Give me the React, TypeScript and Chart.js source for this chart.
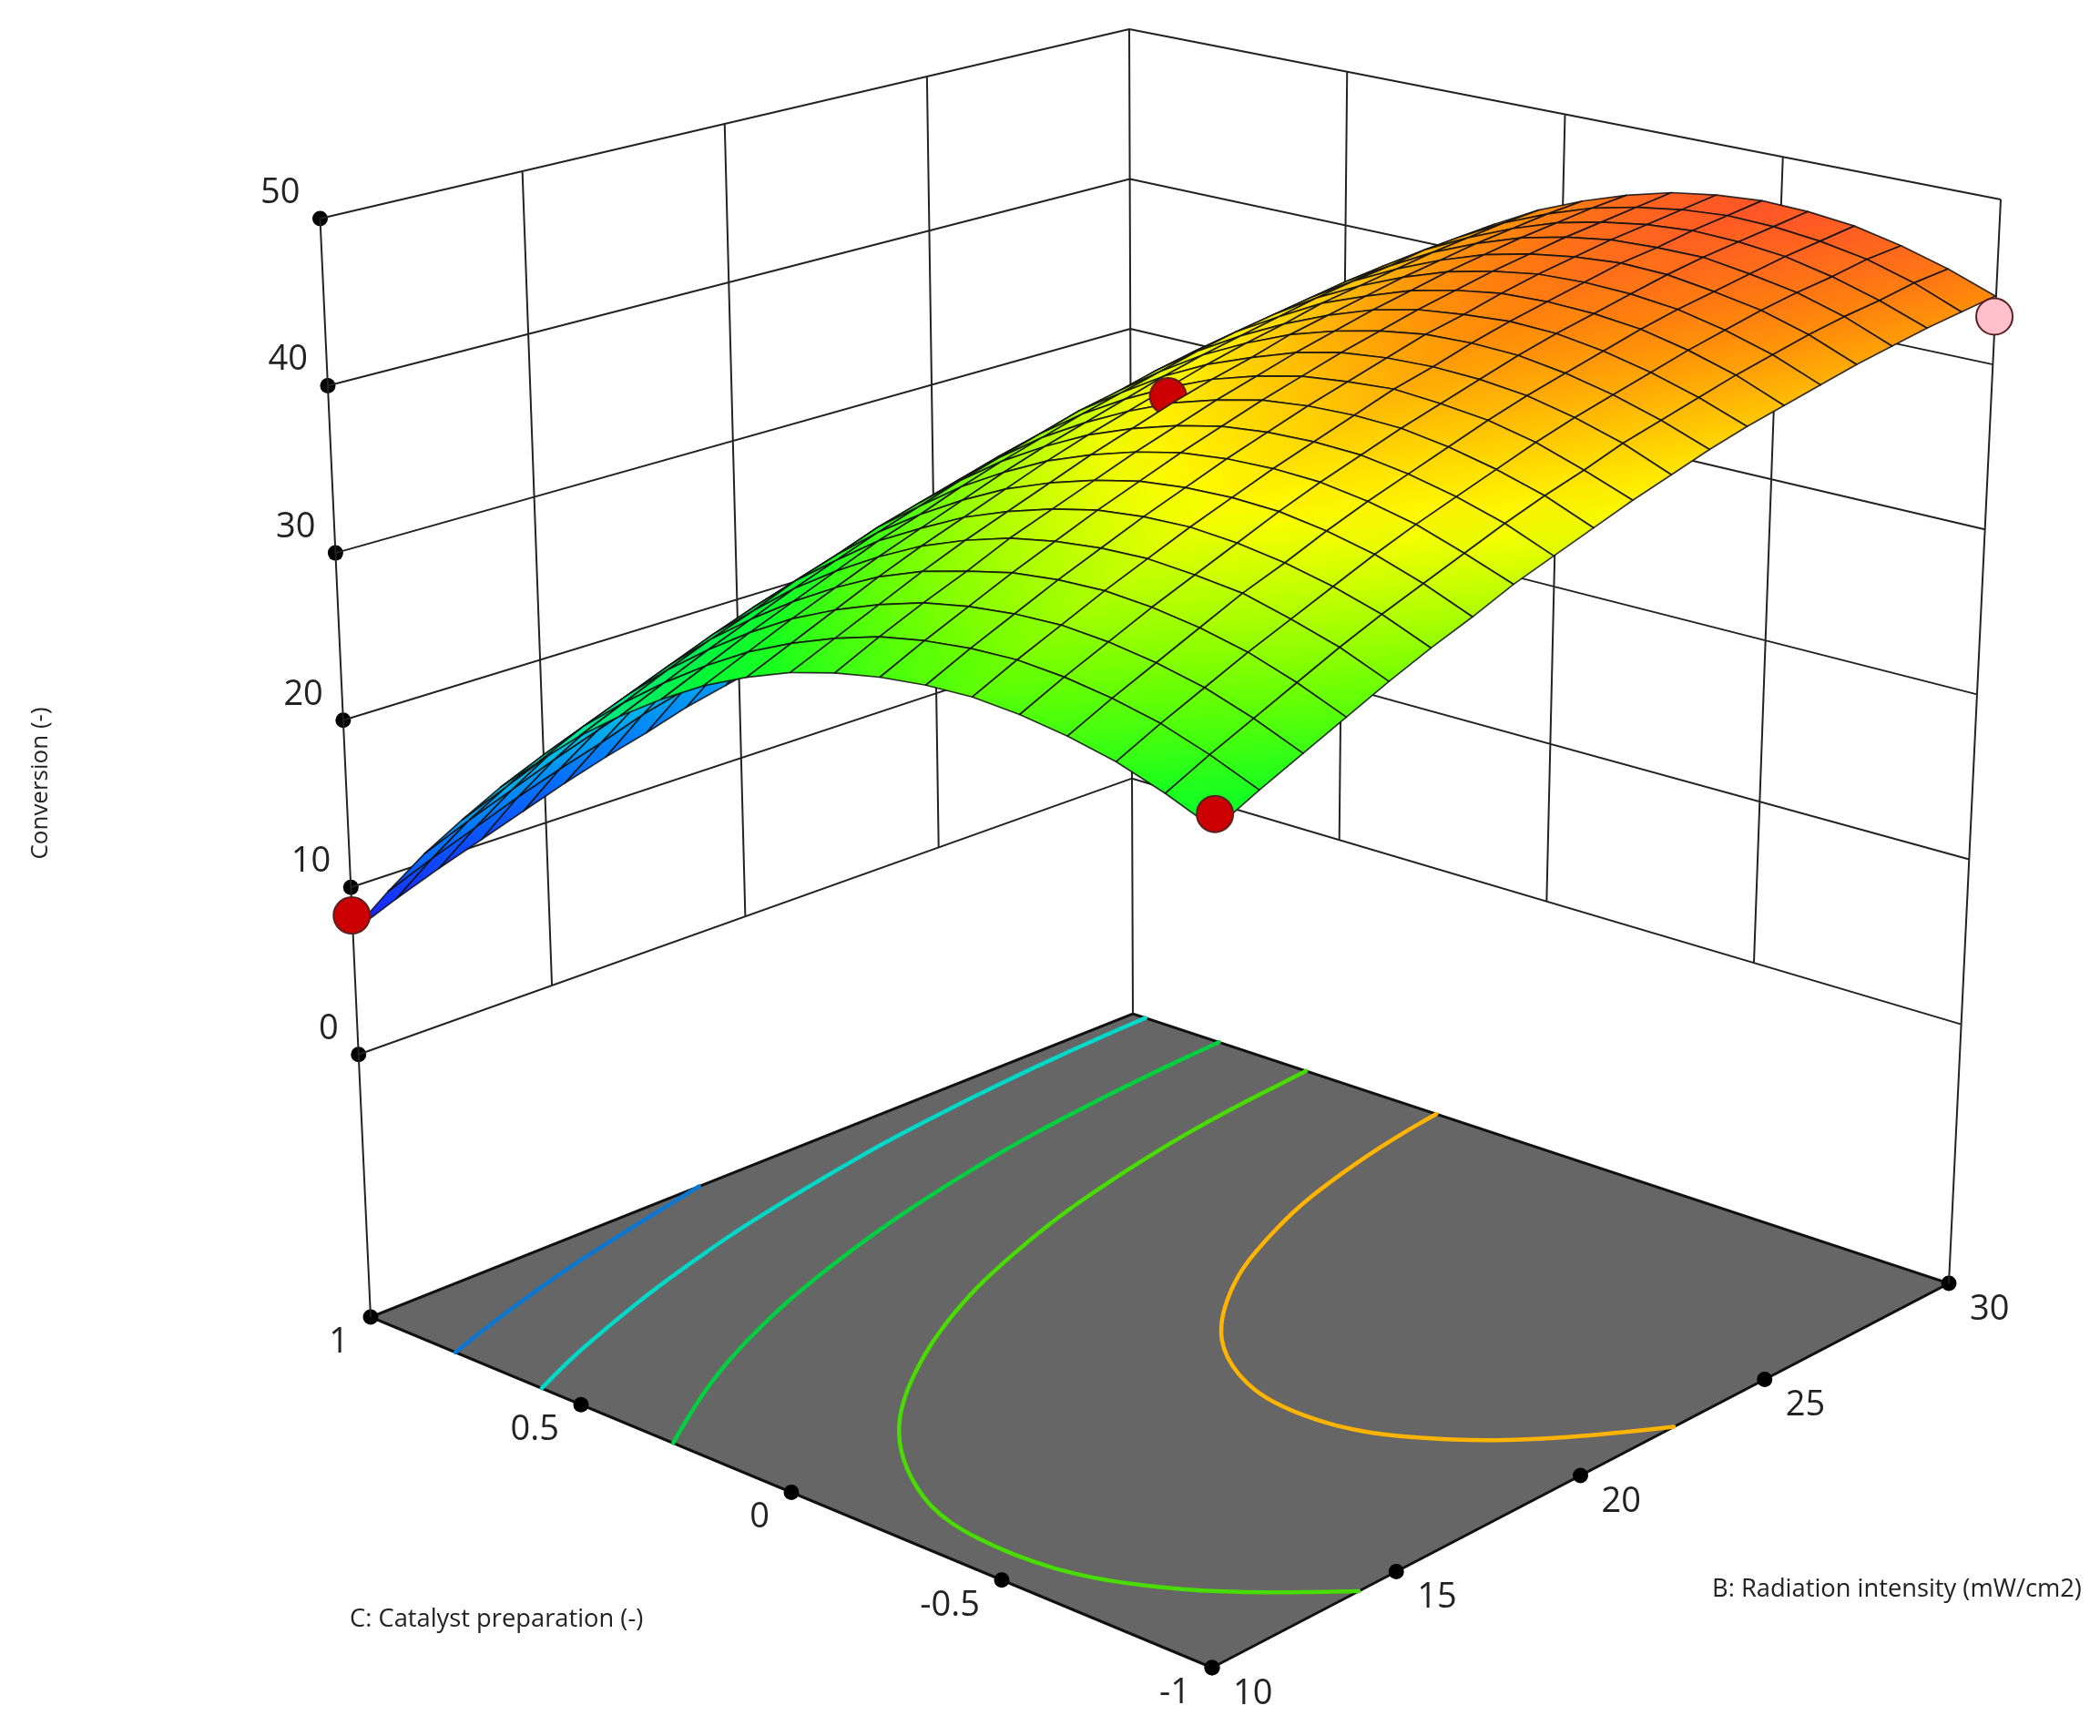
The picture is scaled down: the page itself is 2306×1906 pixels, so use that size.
import { useEffect, useRef } from "react"
import { Chart, registerables } from "chart.js"

Chart.register(...registerables)

const W = 2306
const H = 1906

const bGrid = [10, 11, 12, 13, 14, 15, 16, 17, 18, 19, 20, 21, 22, 23, 24, 25, 26, 27, 28, 29, 30]
const cGrid = [-1, -0.9, -0.8, -0.7, -0.6, -0.5, -0.4, -0.3, -0.2, -0.1, 0, 0.1, 0.2, 0.3, 0.4, 0.5, 0.6, 0.7, 0.8, 0.9, 1]

// one row per C value, one column per B value
const conversion = [
  [29.7, 30.9, 32.0, 33.1, 34.2, 35.2, 36.1, 37.1, 37.9, 38.7, 39.5, 40.2, 40.9, 41.5, 42.0, 42.5, 43.0, 43.4, 43.8, 44.1, 44.4],
  [30.8, 32.0, 33.1, 34.2, 35.3, 36.3, 37.2, 38.1, 39.0, 39.8, 40.5, 41.3, 41.9, 42.5, 43.1, 43.6, 44.1, 44.5, 44.8, 45.2, 45.4],
  [31.7, 32.9, 34.0, 35.1, 36.1, 37.1, 38.1, 39.0, 39.8, 40.6, 41.4, 42.1, 42.7, 43.3, 43.9, 44.4, 44.9, 45.3, 45.6, 46.0, 46.2],
  [32.3, 33.5, 34.6, 35.7, 36.8, 37.7, 38.7, 39.6, 40.4, 41.2, 42.0, 42.7, 43.3, 43.9, 44.5, 45.0, 45.4, 45.8, 46.2, 46.5, 46.8],
  [32.7, 33.9, 35.0, 36.1, 37.1, 38.1, 39.1, 40.0, 40.8, 41.6, 42.3, 43.0, 43.7, 44.3, 44.8, 45.3, 45.8, 46.2, 46.5, 46.8, 47.1],
  [32.9, 34.1, 35.2, 36.3, 37.3, 38.3, 39.2, 40.1, 40.9, 41.7, 42.5, 43.1, 43.8, 44.4, 44.9, 45.4, 45.9, 46.2, 46.6, 46.9, 47.2],
  [32.8, 34.0, 35.1, 36.2, 37.2, 38.2, 39.1, 40.0, 40.8, 41.6, 42.3, 43.0, 43.7, 44.2, 44.8, 45.3, 45.7, 46.1, 46.4, 46.7, 47.0],
  [32.5, 33.7, 34.8, 35.9, 36.9, 37.9, 38.8, 39.7, 40.5, 41.3, 42.0, 42.7, 43.3, 43.9, 44.4, 44.9, 45.3, 45.7, 46.0, 46.3, 46.6],
  [32.0, 33.2, 34.3, 35.3, 36.4, 37.3, 38.2, 39.1, 39.9, 40.7, 41.4, 42.1, 42.7, 43.3, 43.8, 44.3, 44.7, 45.1, 45.4, 45.7, 45.9],
  [31.3, 32.4, 33.5, 34.6, 35.6, 36.5, 37.4, 38.3, 39.1, 39.9, 40.6, 41.2, 41.9, 42.4, 42.9, 43.4, 43.8, 44.2, 44.5, 44.8, 45.0],
  [30.3, 31.4, 32.5, 33.6, 34.6, 35.5, 36.4, 37.3, 38.1, 38.8, 39.5, 40.2, 40.8, 41.3, 41.9, 42.3, 42.7, 43.1, 43.4, 43.7, 43.9],
  [29.1, 30.2, 31.3, 32.3, 33.3, 34.2, 35.1, 36.0, 36.8, 37.5, 38.2, 38.9, 39.5, 40.0, 40.5, 41.0, 41.4, 41.7, 42.1, 42.3, 42.5],
  [27.6, 28.7, 29.8, 30.8, 31.8, 32.8, 33.6, 34.5, 35.3, 36.0, 36.7, 37.3, 37.9, 38.5, 39.0, 39.4, 39.8, 40.2, 40.5, 40.7, 40.9],
  [25.9, 27.0, 28.1, 29.1, 30.1, 31.0, 31.9, 32.7, 33.5, 34.2, 34.9, 35.6, 36.1, 36.7, 37.2, 37.6, 38.0, 38.3, 38.6, 38.9, 39.1],
  [24.0, 25.1, 26.2, 27.2, 28.1, 29.1, 29.9, 30.8, 31.5, 32.2, 32.9, 33.5, 34.1, 34.6, 35.1, 35.6, 35.9, 36.3, 36.6, 36.8, 37.0],
  [21.8, 23.0, 24.0, 25.0, 26.0, 26.9, 27.7, 28.5, 29.3, 30.0, 30.7, 31.3, 31.9, 32.4, 32.8, 33.3, 33.6, 34.0, 34.2, 34.5, 34.7],
  [19.5, 20.6, 21.6, 22.6, 23.5, 24.4, 25.3, 26.1, 26.8, 27.5, 28.2, 28.8, 29.4, 29.9, 30.3, 30.7, 31.1, 31.4, 31.7, 31.9, 32.1],
  [16.8, 17.9, 19.0, 19.9, 20.9, 21.8, 22.6, 23.4, 24.1, 24.8, 25.5, 26.1, 26.6, 27.1, 27.6, 28.0, 28.3, 28.6, 28.9, 29.1, 29.3],
  [14.0, 15.1, 16.1, 17.1, 18.0, 18.9, 19.7, 20.5, 21.2, 21.9, 22.5, 23.1, 23.7, 24.2, 24.6, 25.0, 25.3, 25.6, 25.9, 26.1, 26.2],
  [10.9, 12.0, 13.0, 14.0, 14.9, 15.7, 16.6, 17.3, 18.1, 18.7, 19.4, 19.9, 20.5, 20.9, 21.4, 21.7, 22.1, 22.4, 22.6, 22.8, 22.9],
  [7.6, 8.7, 9.7, 10.6, 11.5, 12.4, 13.2, 13.9, 14.7, 15.3, 15.9, 16.5, 17.0, 17.5, 17.9, 18.3, 18.6, 18.9, 19.1, 19.3, 19.4],
]

const zTicks = [0, 10, 20, 30, 40, 50]
const bTicks = [10, 15, 20, 25, 30]
const cTicks = [1, 0.5, 0, -0.5, -1]

const contourLevels = [14.7, 20.6, 27.2, 33.7, 40.8]
const contourColors = ["#0a78d2", "#00d8c8", "#00d040", "#48dc00", "#ffb400"]

const designB = [30, 10, 10, 20]
const designC = [-1, -1, 1, 0]
const designZ = [43.2, 30.5, 8.6, 39.0]
const designFill = ["#ffc0cb", "#cc0000", "#cc0000", "#cc0000"]

// colour ramp against conversion
const rampLevels = [7.6, 14, 20.6, 27.2, 30, 34, 39, 40.5, 44.4, 47.2]
const rampColors = [
  [30, 20, 255], [0, 120, 255], [0, 225, 215], [0, 235, 80], [0, 255, 40],
  [110, 255, 0], [255, 255, 0], [255, 225, 0], [255, 135, 10], [255, 85, 40],
]

// box corners in canvas px: front, right, back, left
const floorCorners = [[1331, 1831], [2140, 1409], [1244, 1113], [407, 1446]]
const topLeft = [351.5, 240]
const topBack = [1240, 32]
const topRight = [2197, 219]

const dx1 = floorCorners[1][0] - floorCorners[2][0]
const dx2 = floorCorners[3][0] - floorCorners[2][0]
const sx = floorCorners[0][0] - floorCorners[1][0] + floorCorners[2][0] - floorCorners[3][0]
const dy1 = floorCorners[1][1] - floorCorners[2][1]
const dy2 = floorCorners[3][1] - floorCorners[2][1]
const sy = floorCorners[0][1] - floorCorners[1][1] + floorCorners[2][1] - floorCorners[3][1]
const den = dx1 * dy2 - dx2 * dy1
const hg = (sx * dy2 - dx2 * sy) / den
const hh = (dx1 * sy - sx * dy1) / den
const ha = floorCorners[1][0] - floorCorners[0][0] + hg * floorCorners[1][0]
const hb = floorCorners[3][0] - floorCorners[0][0] + hh * floorCorners[3][0]
const hd = floorCorners[1][1] - floorCorners[0][1] + hg * floorCorners[1][1]
const he = floorCorners[3][1] - floorCorners[0][1] + hh * floorCorners[3][1]

// surface and contours use the camera, t = 0 is the floor
function project(b: number, c: number, z: number | null) {
  const u = (b - 10) / 20
  const v = (c + 1) / 2
  const t = z === null ? 0 : (z + 16.6) / 66.6
  const w = hg * u + hh * v + 1 - 0.07 * t
  return {
    x: (ha * u + hb * v + floorCorners[0][0] - 89 * t) / w,
    y: (hd * u + he * v + floorCorners[0][1] - 1388 * t) / w,
  }
}

function lerp(p: number[], q: number[], s: number) {
  return [p[0] + (q[0] - p[0]) * s, p[1] + (q[1] - p[1]) * s]
}

const zFrac = (z: number) => (z + 15.7) / 65.7

function rampColor(z: number) {
  let k = 0
  while (k < rampLevels.length - 2 && z > rampLevels[k + 1]) k++
  const s = Math.max(0, Math.min(1, (z - rampLevels[k]) / (rampLevels[k + 1] - rampLevels[k])))
  const a = rampColors[k]
  const b = rampColors[k + 1]
  return `rgb(${a[0] + (b[0] - a[0]) * s},${a[1] + (b[1] - a[1]) * s},${a[2] + (b[2] - a[2]) * s})`
}

function wallLines() {
  const pts: { x: number; y: number }[] = []
  const seg = (p: number[], q: number[]) => {
    pts.push({ x: p[0], y: p[1] }, { x: q[0], y: q[1] }, { x: NaN, y: NaN })
  }
  const left = floorCorners[3]
  const back = floorCorners[2]
  const right = floorCorners[1]
  seg(left, topLeft)
  seg(back, topBack)
  seg(right, topRight)
  zTicks.forEach((z) => {
    const s = zFrac(z)
    const l = lerp(left, topLeft, s)
    const m = lerp(back, topBack, s)
    const r = lerp(right, topRight, s)
    seg(l, m)
    seg(m, r)
  })
  const s0 = zFrac(0)
  bTicks.slice(1, -1).forEach((b) => {
    const f = (b - 10) / 20
    seg(lerp(lerp(left, topLeft, s0), lerp(back, topBack, s0), f), lerp(topLeft, topBack, f))
  })
  cTicks.slice(1, -1).forEach((c) => {
    const f = (1 - c) / 2
    seg(lerp(lerp(back, topBack, s0), lerp(right, topRight, s0), f), lerp(topBack, topRight, f))
  })
  return pts
}

// marching squares over the table, then chain the pieces so the line can be smoothed
function contourLine(level: number) {
  type P = { x: number; y: number }
  const segs: P[][] = []
  const cross = (b0: number, c0: number, z0: number, b1: number, c1: number, z1: number) => {
    const s = (level - z0) / (z1 - z0)
    return project(b0 + (b1 - b0) * s, c0 + (c1 - c0) * s, null)
  }
  for (let j = 0; j < cGrid.length - 1; j++) {
    for (let i = 0; i < bGrid.length - 1; i++) {
      const z00 = conversion[j][i]
      const z10 = conversion[j][i + 1]
      const z01 = conversion[j + 1][i]
      const z11 = conversion[j + 1][i + 1]
      const hits: P[] = []
      if (z00 < level !== z10 < level) hits.push(cross(bGrid[i], cGrid[j], z00, bGrid[i + 1], cGrid[j], z10))
      if (z10 < level !== z11 < level) hits.push(cross(bGrid[i + 1], cGrid[j], z10, bGrid[i + 1], cGrid[j + 1], z11))
      if (z01 < level !== z11 < level) hits.push(cross(bGrid[i], cGrid[j + 1], z01, bGrid[i + 1], cGrid[j + 1], z11))
      if (z00 < level !== z01 < level) hits.push(cross(bGrid[i], cGrid[j], z00, bGrid[i], cGrid[j + 1], z01))
      if (hits.length >= 2) segs.push([hits[0], hits[1]])
    }
  }
  const same = (p: P, q: P) => Math.abs(p.x - q.x) < 0.01 && Math.abs(p.y - q.y) < 0.01
  const count = (p: P) => segs.reduce((n, s) => n + (same(s[0], p) ? 1 : 0) + (same(s[1], p) ? 1 : 0), 0)
  const first = segs.find((s) => count(s[0]) === 1 || count(s[1]) === 1) || segs[0]
  let line: P[] = count(first[0]) === 1 ? [first[0], first[1]] : [first[1], first[0]]
  const left = segs.filter((s) => s !== first)
  while (left.length) {
    const tail = line[line.length - 1]
    const k = left.findIndex((s) => same(s[0], tail) || same(s[1], tail))
    if (k < 0) break
    const s = left.splice(k, 1)[0]
    line.push(same(s[0], tail) ? s[1] : s[0])
  }
  // the table is rounded to one decimal, take the jitter out of the line
  for (let pass = 0; pass < 3; pass++) {
    line = line.map((p, k) => {
      if (k === 0 || k === line.length - 1) return p
      return {
        x: (line[k - 1].x + 2 * p.x + line[k + 1].x) / 4,
        y: (line[k - 1].y + 2 * p.y + line[k + 1].y) / 4,
      }
    })
  }
  return line
}

const tickDots = [
  ...zTicks.map((z) => {
    const p = lerp(floorCorners[3], topLeft, zFrac(z))
    return { x: p[0], y: p[1] }
  }),
  ...bTicks.map((b) => {
    const p = lerp(floorCorners[0], floorCorners[1], (b - 10) / 20)
    return { x: p[0], y: p[1] }
  }),
  ...cTicks.map((c) => {
    const p = lerp(floorCorners[0], floorCorners[3], (c + 1) / 2)
    return { x: p[0], y: p[1] }
  }),
]

const surfacePlugin = {
  id: "surface",
  beforeDatasetsDraw(chart: any) {
    const { ctx, scales } = chart
    ctx.save()
    ctx.beginPath()
    floorCorners.forEach((p, k) => {
      const x = scales.x.getPixelForValue(p[0])
      const y = scales.y.getPixelForValue(p[1])
      if (k === 0) ctx.moveTo(x, y)
      else ctx.lineTo(x, y)
    })
    ctx.closePath()
    ctx.fillStyle = "#666666"
    ctx.fill()
    ctx.strokeStyle = "#111111"
    ctx.lineWidth = 3
    ctx.stroke()
    ctx.restore()
  },
  afterDatasetsDraw(chart: any) {
    const { ctx, scales } = chart
    const px = (b: number, c: number, z: number) => {
      const p = project(b, c, z)
      return { x: scales.x.getPixelForValue(p.x), y: scales.y.getPixelForValue(p.y) }
    }
    const drawPoint = (k: number) => {
      const p = px(designB[k], designC[k], designZ[k])
      ctx.beginPath()
      ctx.arc(p.x, p.y, 20, 0, Math.PI * 2)
      ctx.fillStyle = designFill[k]
      ctx.fill()
      ctx.strokeStyle = "#5a2020"
      ctx.lineWidth = 2
      ctx.stroke()
    }
    const drawCell = (i: number, j: number) => {
      const corners = [
        { b: bGrid[i], c: cGrid[j], z: conversion[j][i] },
        { b: bGrid[i + 1], c: cGrid[j], z: conversion[j][i + 1] },
        { b: bGrid[i + 1], c: cGrid[j + 1], z: conversion[j + 1][i + 1] },
        { b: bGrid[i], c: cGrid[j + 1], z: conversion[j + 1][i] },
      ]
      const pts = corners.map((q) => px(q.b, q.c, q.z))
      let lo = 0
      let hi = 0
      corners.forEach((q, k) => {
        if (q.z < corners[lo].z) lo = k
        if (q.z > corners[hi].z) hi = k
      })
      const grad = ctx.createLinearGradient(pts[lo].x, pts[lo].y, pts[hi].x, pts[hi].y)
      grad.addColorStop(0, rampColor(corners[lo].z))
      grad.addColorStop(1, rampColor(corners[hi].z))
      ctx.beginPath()
      pts.forEach((p, k) => (k === 0 ? ctx.moveTo(p.x, p.y) : ctx.lineTo(p.x, p.y)))
      ctx.closePath()
      ctx.fillStyle = grad
      ctx.fill()
      ctx.strokeStyle = "rgba(15,15,15,0.85)"
      ctx.lineWidth = 1.7
      ctx.stroke()
    }
    ctx.save()
    ctx.lineJoin = "round"
    // far rows first so the near part of the surface paints over the rest
    for (let j = cGrid.length - 2; j >= 0; j--) {
      for (let i = bGrid.length - 2; i >= 0; i--) drawCell(i, j)
      // the centre point sits just under the surface, nearer rows hide its lower part
      if (j === 9) drawPoint(3)
    }
    drawPoint(0)
    drawPoint(1)
    drawPoint(2)

    ctx.fillStyle = "#222222"
    ctx.font = '38px "Open Sans"'
    ctx.textBaseline = "middle"
    ctx.textAlign = "right"
    zTicks.forEach((z) => {
      const p = lerp(floorCorners[3], topLeft, zFrac(z))
      ctx.fillText(String(z), scales.x.getPixelForValue(p[0]) - 22, scales.y.getPixelForValue(p[1]) - 28)
    })
    cTicks.forEach((c) => {
      const p = lerp(floorCorners[0], floorCorners[3], (c + 1) / 2)
      ctx.fillText(String(c), scales.x.getPixelForValue(p[0]) - 24, scales.y.getPixelForValue(p[1]) + 28)
    })
    ctx.textAlign = "left"
    bTicks.forEach((b) => {
      const p = lerp(floorCorners[0], floorCorners[1], (b - 10) / 20)
      ctx.fillText(String(b), scales.x.getPixelForValue(p[0]) + 23, scales.y.getPixelForValue(p[1]) + 29)
    })

    ctx.font = '27.3px "Open Sans"'
    ctx.fillText("C: Catalyst preparation (-)", scales.x.getPixelForValue(384), scales.y.getPixelForValue(1778))
    ctx.fillText("B: Radiation intensity (mW/cm2)", scales.x.getPixelForValue(1880), scales.y.getPixelForValue(1745))
    ctx.font = '26px "Open Sans"'
    ctx.translate(scales.x.getPixelForValue(45), scales.y.getPixelForValue(860))
    ctx.rotate(-Math.PI / 2)
    ctx.textAlign = "center"
    ctx.fillText("Conversion (-)", 0, 0)
    ctx.restore()
  },
}

export default function App() {
  const chartRef = useRef<HTMLCanvasElement | null>(null)

  useEffect(() => {
    if (!chartRef.current) return
    const chart = new Chart(chartRef.current, {
      type: "scatter",
      data: {
        datasets: [
          {
            data: wallLines(),
            showLine: true,
            borderColor: "#222222",
            borderWidth: 2,
            pointRadius: 0,
            spanGaps: false,
          },
          ...contourLevels.map((level, k) => ({
            data: contourLine(level),
            showLine: true,
            borderColor: contourColors[k],
            borderWidth: 4.5,
            borderCapStyle: "round",
            tension: 0.4,
            pointRadius: 0,
          })),
          {
            data: tickDots,
            showLine: false,
            pointRadius: 8.5,
            backgroundColor: "#000000",
            borderWidth: 0,
          },
        ],
      } as any,
      options: {
        animation: false,
        responsive: false,
        devicePixelRatio: 1,
        layout: { padding: 0, autoPadding: false },
        events: [],
        scales: {
          x: { type: "linear", min: 0, max: W, display: false },
          y: { type: "linear", min: 0, max: H, reverse: true, display: false },
        },
        plugins: { legend: { display: false }, tooltip: { enabled: false } },
      },
      plugins: [surfacePlugin],
    })
    return () => chart.destroy()
  }, [])

  return (
    <div style={{ position: "absolute", left: 0, top: 0, width: W, height: H, background: "#ffffff" }}>
      <canvas ref={chartRef} width={W} height={H} style={{ display: "block" }} />
    </div>
  )
}
